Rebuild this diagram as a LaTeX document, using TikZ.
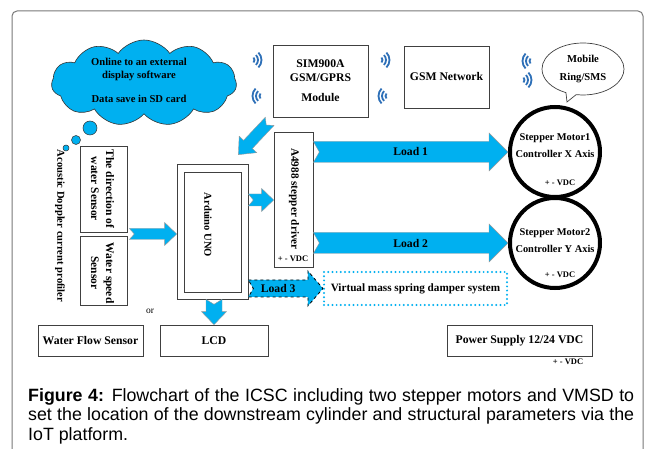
\documentclass[tikz,border=0pt]{standalone}
\usepackage{fontspec}
\setmainfont{Liberation Serif}
\newfontfamily\capfont{Liberation Sans}
\usetikzlibrary{calc,shapes.symbols,shapes.callouts,shapes.geometric}
\definecolor{arrowblue}{RGB}{0,176,240}
\definecolor{wifiblue}{RGB}{46,112,184}
\definecolor{framegray}{RGB}{120,120,120}

\begin{document}
\begin{tikzpicture}
[x=1pt, y=-1pt, font=\bfseries\fontsize{11.7}{14}\selectfont,
box/.style={rectangle, draw=black!75, line width=0.7pt, fill=white, inner sep=0pt},
vtext/.style={rotate=-90, align=center, inner sep=0pt},
smalltxt/.style={font=\bfseries\fontsize{10.6}{13}\selectfont},
vdc/.style={inner sep=0pt, font=\bfseries\fontsize{8.5}{9}\selectfont},
bubble/.style={circle, draw=black!80, line width=0.5pt, fill=arrowblue, inner sep=0pt},
motor/.style={circle, draw=black, line width=4pt, minimum size=90, inner sep=0pt},
blockarrow/.style n args={4}{to path={
  ($(\tikztotarget)!#3!(\tikztostart)$) coordinate (bahead)
  ($(\tikztostart)!#1!90:(\tikztotarget)$) -- ($(bahead)!#1!90:(\tikztotarget)$)
  -- ($(bahead)!#2!90:(\tikztotarget)$) -- (\tikztotarget)
  -- ($(bahead)!#2!-90:(\tikztotarget)$) -- ($(bahead)!#1!-90:(\tikztotarget)$)
  -- ($(\tikztostart)!#1!-90:(\tikztotarget)$) -- ($(\tikztostart)!#4!(\tikztotarget)$) -- cycle}},
fatarrow/.style={fill=arrowblue, draw=black!40, line width=0.4pt},
dasharrow/.style={fill=arrowblue, draw=black, line width=0.8pt, dashed},
wifi/.pic={\foreach \r in {3.5,7,10.5}
  \draw[wifiblue, line width=1.8pt] (-6pt,0) ++(-45:\r pt) arc[start angle=-45, end angle=45, radius=\r pt];}]

\useasboundingbox (0,0) rectangle (646,449);
\fill[white] (0,0) rectangle (646,449);
\draw[framegray, line width=1pt, rounded corners=5pt] (12,449) -- (12,11) -- (643,11) -- (643,449);

% cloud
\node[cloud, cloud puffs=11, cloud puff arc=110, aspect=2.2, draw=black!80, line width=0.6pt,
  fill=arrowblue, minimum width=185, minimum height=86, inner sep=0pt] (cld) at (144,83) {};
\node[smalltxt, align=center] (cldt) at (139,80) {Online to an external\\display software\\[11pt]Data save in SD card};
\node[bubble, minimum size=14] (b1) at (90,128) {};
\node[bubble, minimum size=9] (b2) at (76,140) {};
\node[bubble, minimum size=6] (b3) at (66,148) {};

% top row
\node[box, minimum width=95, minimum height=72, align=center] (sim) at (320.5,81) {SIM900A\\GSM/GPRS\\[6pt]Module};
\node[box, minimum width=85, minimum height=62] (gsm) at (446.5,77) {GSM Network};
\node[ellipse callout, callout absolute pointer={(567,102)}, draw=black!75, line width=0.7pt,
  minimum width=82, minimum height=52, inner sep=0pt, align=center, smalltxt] (mob) at (583,69) {Mobile\\[5pt]Ring/SMS};

\pic at (257,60) {wifi};
\pic[rotate=180] at (257,96) {wifi};
\pic at (385,60) {wifi};
\pic[rotate=180] at (383,96) {wifi};
\pic[rotate=180] at (527,61) {wifi};
\pic at (527,80) {wifi};

% sensors
\node[smalltxt, vtext] (adcp) at (60,226) {Acoustic Doppler current profiler};
\node[box, minimum width=47, minimum height=86] (dir) at (103.5,189) {};
\node[vtext, font=\bfseries\fontsize{11.5}{15}\selectfont] (dirt) at (102.5,189) {The direction of\\water Sensor};
\node[box, minimum width=47, minimum height=69] (spd) at (103.5,270.5) {};
\node[vtext, font=\bfseries\fontsize{11.5}{15}\selectfont] (spdt) at (102.5,273) {Water speed\\Sensor};
\node[inner sep=0pt, font=\fontsize{9.5}{10}\selectfont] (or) at (150,311) {or};

% controller and driver
\node[box, minimum width=71, minimum height=135] (ard) at (212.5,231.5) {};
\node[box, minimum width=57, minimum height=120] (ardin) at (212.5,232) {};
\node[smalltxt, vtext] (ardt) at (208,225) {Arduino UNO};
\node[box, minimum width=39, minimum height=135] (drv) at (293.5,199.5) {};
\node[vtext, font=\bfseries\fontsize{11.2}{14}\selectfont] (drvt) at (294,199) {A4988 stepper driver};
\node[vdc] (drvv) at (293,259) {+ - VDC};

% motors
\node[motor] (m1) at (555,152) {};
\node[align=center, font=\bfseries\fontsize{10.4}{17}\selectfont] (m1t) at (555,146) {Stepper Motor1\\Controller X Axis};
\node[vdc] (m1v) at (560,183) {+ - VDC};
\node[motor] (m2) at (555,243) {};
\node[align=center, font=\bfseries\fontsize{10.4}{17}\selectfont] (m2t) at (555,241) {Stepper Motor2\\Controller Y Axis};
\node[vdc] (m2v) at (560,275) {+ - VDC};

\node[rectangle, draw=arrowblue, line width=2.2pt, dash pattern=on 0pt off 4.2pt, line cap=round,
  minimum width=183, minimum height=33, inner sep=0pt, font=\bfseries\fontsize{11.2}{14}\selectfont] (vms) at (415.5,288.5) {Virtual mass spring damper system};

% bottom row
\node[box, minimum width=105, minimum height=31] (wfs) at (90.5,340.5) {Water Flow Sensor};
\node[box, minimum width=108, minimum height=31] (lcd) at (214,340.5) {LCD};
\node[box, minimum width=145, minimum height=31] (pwr) at (519.5,340.5) {Power Supply 12/24 VDC};
\node[vdc] (pwrv) at (568,362) {+ - VDC};

% block arrows
\coordinate (simout) at ($(sim.south west)+(-3,4)$);
\coordinate (ardtop) at ($(ard.north east)+(-10,-9)$);
\coordinate (sensout) at ($(dir.south east)!.5!(spd.north east)+(2,0)$);
\path[fatarrow, blockarrow={6pt}{12pt}{14pt}{5pt}] (simout) to (ardtop);
\path[fatarrow, blockarrow={5.5pt}{11.5pt}{12pt}{5pt}] (sensout) to (sensout -| ard.west);
\path[fatarrow, blockarrow={6pt}{11.5pt}{12pt}{5pt}] (ard.east |- 0,200) to (drv.west |- 0,200);
\path[fatarrow, blockarrow={10.5pt}{19pt}{19pt}{6pt}] (drv.east |- m1.center) to (m1.west);
\path[fatarrow, blockarrow={10.5pt}{19pt}{19pt}{6pt}] (drv.east |- m2.center) to (m2.west);
\path[dasharrow, blockarrow={8.5pt}{17.5pt}{15pt}{5pt}] (ard.east |- vms.west) to (vms.west);
\path[fatarrow, blockarrow={8pt}{12.5pt}{13pt}{5pt}] (ard.south -| lcd.north) to (lcd.north);

\node (load1) at ($(drv.east |- m1.center)!.5!(m1.west)$) {Load 1};
\node (load2) at ($(drv.east |- m2.center)!.5!(m2.west)$) {Load 2};
\node (load3) at ($(ard.east |- vms.west)!.4!(vms.west)$) {Load 3};

% caption
\node[anchor=north west, inner sep=0pt, text width=606pt, align=justify,
  font=\capfont\mdseries\fontsize{17.8}{19.5}\selectfont] (cap) at (28,388)
  {\textbf{Figure 4:} Flowchart of the ICSC including two stepper motors and VMSD to\linebreak set the location of the downstream cylinder and structural parameters via the\linebreak IoT platform.};
\end{tikzpicture}
\end{document}
